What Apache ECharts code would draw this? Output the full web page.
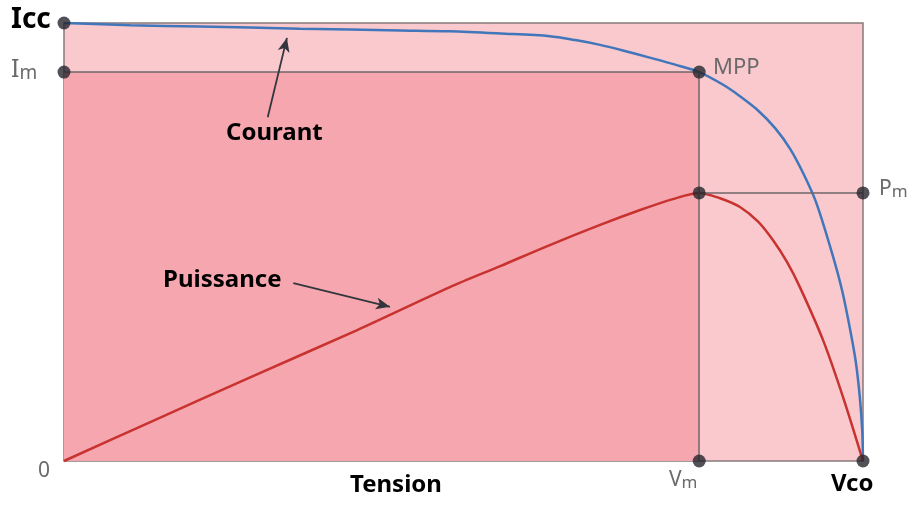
<!DOCTYPE html>
<html>
<head>
<meta charset="utf-8">
<script src="https://cdn.jsdelivr.net/npm/echarts@6/dist/echarts.min.js"></script>
<style>
  html, body { margin: 0; padding: 0; background: #fff; }
  #main { width: 915px; height: 506px; }
</style>
</head>
<body>
<div id="main"></div>
<script>
// points clés (échelle relative 0-100)
var Vm = 79.5, Vco = 100;
var Im = 88.8, Icc = 100, Pm = 61.2;

// courbe courant I(V)
var tensionI = [0, 8.3, 17.0, 29.5, 42.1, 48.3, 54.6, 60.8, 64.0, 67.1, 70.2, 73.3, 76.5, 79.5,
                82.5, 84.6, 86.7, 89.0, 90.9, 92.7, 94.2, 96.2, 97.4, 98.4, 99.1, 99.6, 99.9, 100];
var courant  = [100, 99.5, 99.2, 98.7, 98.3, 98.1, 97.6, 97.0, 96.1, 95.0, 93.6, 92.1, 90.5, 88.8,
                85.9, 83.3, 80.3, 76.0, 71.2, 65.0, 58.7, 47.0, 38.8, 29.9, 22.6, 14.6, 7.1, 0];

// courbe puissance P(V)
var tensionP  = [0, 10.8, 23.3, 36.7, 48.3, 54.6, 60.8, 67.1, 72.1, 76.2, 79.5,
                 82.1, 84.6, 86.9, 88.7, 90.5, 92.1, 95.0, 97.5, 100];
var puissance = [0, 8.9, 19.1, 29.9, 39.7, 44.5, 49.3, 53.9, 57.3, 59.8, 61.2,
                 60.0, 58.0, 54.6, 50.5, 45.4, 39.7, 27.6, 14.6, 0];

// points marqués
var points = [[0, Icc], [0, Im], [Vm, Im], [Vm, Pm], [Vco, Pm], [Vm, 0], [Vco, 0]];

// flèches des légendes
var flecheCourant   = [[25.5, 78.5], [27.9, 96.6]];
var flechePuissance = [[28.7, 40.6], [40.8, 35.2]];

function zip(a, b) {
    return a.map(function (v, i) { return [v, b[i]]; });
}

var grisLigne = '#6f6668';
var grisTexte = '#6a6a6a';
var police = '"Noto Sans", sans-serif';

var chart = echarts.init(document.getElementById('main'));
var option = {
    animation: false,
    grid: {
        left: 64, right: 52, top: 23, bottom: 45,
        show: true,
        backgroundColor: '#f9c9cd',
        borderColor: '#857a7b',
        borderWidth: 1.5
    },
    xAxis: { type: 'value', min: 0, max: 100, show: false },
    yAxis: { type: 'value', min: 0, max: 100, show: false },
    series: [{
        // zone Vm x Im
        type: 'line',
        data: [],
        z: 1,
        silent: true,
        markArea: {
            silent: true,
            itemStyle: { color: '#f5a6ae' },
            data: [[{ coord: [0, 0] }, { coord: [Vm, Im] }]]
        }
    }, {
        // lignes de repère
        type: 'line',
        data: [],
        z: 2,
        silent: true,
        markLine: {
            silent: true,
            symbol: 'none',
            label: { show: false },
            lineStyle: { color: grisLigne, width: 1.5, type: 'solid' },
            data: [
                [{ coord: [0, Im] }, { coord: [Vm, Im] }],
                [{ coord: [Vm, 0] }, { coord: [Vm, Im] }],
                [{ coord: [Vm, Pm] }, { coord: [Vco, Pm] }]
            ]
        }
    }, {
        name: 'Courant',
        type: 'line',
        data: zip(tensionI, courant),
        smooth: 0.3,
        showSymbol: false,
        z: 3,
        lineStyle: { color: '#4176bb', width: 2.5 }
    }, {
        name: 'Puissance',
        type: 'line',
        data: zip(tensionP, puissance),
        smooth: 0.3,
        showSymbol: false,
        z: 3,
        lineStyle: { color: '#c8322f', width: 2.5 }
    }, {
        // flèches
        type: 'line',
        data: [],
        z: 4,
        silent: true,
        markLine: {
            silent: true,
            symbol: ['none', 'arrow'],
            symbolSize: [9, 14],
            label: { show: false },
            lineStyle: { color: '#33363d', width: 1.8, type: 'solid' },
            data: [
                [{ coord: flecheCourant[0] }, { coord: flecheCourant[1] }],
                [{ coord: flechePuissance[0] }, { coord: flechePuissance[1] }]
            ]
        }
    }, {
        type: 'scatter',
        data: points,
        symbolSize: 13,
        clip: false,
        z: 10,
        itemStyle: { color: '#25252d' }
    }],
    graphic: {
        elements: [
            { type: 'text', z: 100, left: 11, top: 6, style: { text: 'Icc', font: 'bold 28px ' + police, fill: '#000' } },
            { type: 'text', z: 100, left: 11, top: 57, style: {
                text: '{a|I}{b|m}',
                rich: {
                    a: { fontFamily: 'Noto Sans', fontSize: 25, fill: grisTexte, color: grisTexte },
                    b: { fontFamily: 'Noto Sans', fontSize: 19, fill: grisTexte, color: grisTexte, padding: [8, 0, 0, 0] }
                }
            } },
            { type: 'text', z: 100, left: 713, top: 57, style: { text: 'MPP', font: '22px ' + police, fill: grisTexte } },
            { type: 'text', z: 100, left: 879, top: 179, style: {
                text: '{a|P}{b|m}',
                rich: {
                    a: { fontFamily: 'Noto Sans', fontSize: 21, fill: grisTexte, color: grisTexte },
                    b: { fontFamily: 'Noto Sans', fontSize: 17, fill: grisTexte, color: grisTexte, padding: [6, 0, 0, 0] }
                }
            } },
            { type: 'text', z: 100, left: 38, top: 461, style: { text: '0', font: '21px ' + police, fill: grisTexte } },
            { type: 'text', z: 100, left: 669, top: 470, style: {
                text: '{a|V}{b|m}',
                rich: {
                    a: { fontFamily: 'Noto Sans', fontSize: 21, fill: grisTexte, color: grisTexte },
                    b: { fontFamily: 'Noto Sans', fontSize: 17, fill: grisTexte, color: grisTexte, padding: [6, 0, 0, 0] }
                }
            } },
            { type: 'text', z: 100, left: 831, top: 472, style: { text: 'Vco', font: 'bold 24px ' + police, fill: '#000' } },
            { type: 'text', z: 100, left: 350, top: 473, style: { text: 'Tension', font: 'bold 24px ' + police, fill: '#000' } },
            { type: 'text', z: 100, left: 226, top: 121, style: { text: 'Courant', font: 'bold 24px ' + police, fill: '#000' } },
            { type: 'text', z: 100, left: 163, top: 268, style: { text: 'Puissance', font: 'bold 24px ' + police, fill: '#000' } }
        ]
    }
};
chart.setOption(option);
</script>
</body>
</html>
